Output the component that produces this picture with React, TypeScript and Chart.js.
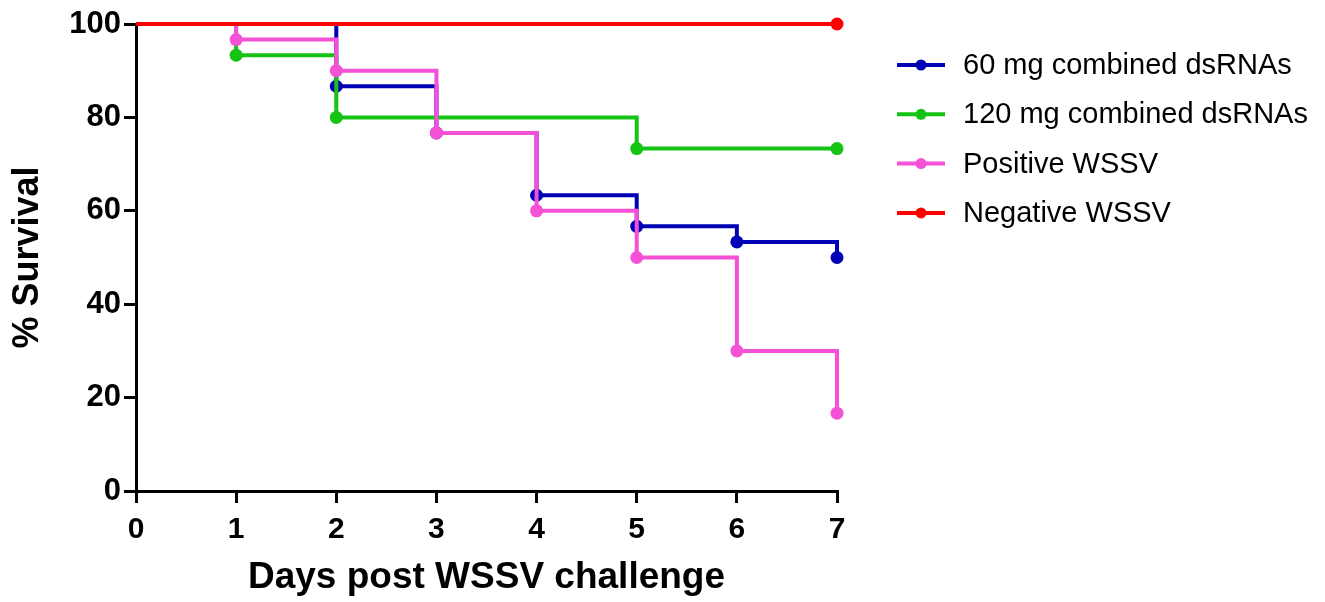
import { useEffect, useRef } from 'react';
import { Chart, registerables } from 'chart.js';

Chart.register(...registerables);

const seriesNames = ['60 mg combined dsRNAs', '120 mg combined dsRNAs', 'Positive WSSV', 'Negative WSSV'];
const seriesColors = ['#0000b4', '#14c314', '#f551d6', '#ff0000'];

const days60 = [0, 2, 3, 4, 5, 6, 7];
const survival60 = [100, 86.67, 76.67, 63.33, 56.67, 53.33, 50];

const days120 = [0, 1, 2, 5, 7];
const survival120 = [100, 93.33, 80, 73.33, 73.33];

const daysPositive = [0, 1, 2, 3, 4, 5, 6, 7];
const survivalPositive = [100, 96.67, 90, 76.67, 60, 50, 30, 16.67];

const daysNegative = [0, 7];
const survivalNegative = [100, 100];

const xTickValues = [0, 1, 2, 3, 4, 5, 6, 7];
const yTickValues = [0, 20, 40, 60, 80, 100];

const FONT = "'Liberation Sans', Arial, sans-serif";

function toPoints(xs: number[], ys: number[]) {
  return xs.map((x, i) => ({ x, y: ys[i] }));
}

const sideLegend = {
  id: 'sideLegend',
  afterDraw(chart: any) {
    const ctx = chart.ctx;
    ctx.save();
    seriesNames.forEach((name, i) => {
      const y = 65 + i * 49.3;
      ctx.strokeStyle = seriesColors[i];
      ctx.lineWidth = 4;
      ctx.beginPath();
      ctx.moveTo(897, y);
      ctx.lineTo(945, y);
      ctx.stroke();
      ctx.fillStyle = seriesColors[i];
      ctx.beginPath();
      ctx.arc(921, y, 5.5, 0, Math.PI * 2);
      ctx.fill();
      ctx.fillStyle = '#000';
      ctx.font = `29px ${FONT}`;
      ctx.textAlign = 'left';
      ctx.textBaseline = 'middle';
      ctx.fillText(name, 963, y + 1);
    });
    ctx.restore();
  },
};

export default function App() {
  const canvasRef = useRef<HTMLCanvasElement | null>(null);

  useEffect(() => {
    if (!canvasRef.current) return;
    const makeDataset = (label: string, xs: number[], ys: number[], color: string, order: number, radii: number[]) => ({
      label,
      data: toPoints(xs, ys),
      borderColor: color,
      backgroundColor: color,
      borderWidth: 4,
      stepped: 'before' as const,
      pointRadius: radii,
      pointHoverRadius: radii,
      pointBorderWidth: 0,
      pointBackgroundColor: color,
      fill: false,
      clip: false as const,
      order,
    });

    const chart = new Chart(canvasRef.current, {
      type: 'line',
      data: {
        datasets: [
          makeDataset(seriesNames[0], days60, survival60, seriesColors[0], 3, days60.map((d) => (d === 0 ? 0 : 6.5))),
          makeDataset(seriesNames[1], days120, survival120, seriesColors[1], 2, days120.map((d) => (d === 0 ? 0 : 6.5))),
          makeDataset(seriesNames[2], daysPositive, survivalPositive, seriesColors[2], 1, daysPositive.map((d) => (d === 0 ? 0 : 6.5))),
          makeDataset(seriesNames[3], daysNegative, survivalNegative, seriesColors[3], 0, daysNegative.map((d) => (d === 0 ? 0 : 6.5))),
        ],
      },
      options: {
        responsive: false,
        animation: false,
        events: [],
        layout: { padding: { top: 24, right: 488, left: 0, bottom: 0 } },
        plugins: {
          legend: { display: false },
          tooltip: { enabled: false },
        },
        scales: {
          x: {
            type: 'linear',
            min: 0,
            max: 7,
            afterFit: (scale: any) => {
              scale.height = 111;
            },
            afterBuildTicks: (scale: any) => {
              scale.ticks = xTickValues.map((v) => ({ value: v }));
            },
            ticks: {
              color: '#000',
              font: { family: FONT, size: 30, weight: 'bold' },
              padding: 9,
              maxRotation: 0,
              autoSkip: false,
              callback: (v: any) => String(v),
            },
            grid: {
              display: true,
              drawOnChartArea: false,
              drawTicks: true,
              tickLength: 12,
              color: '#000',
              lineWidth: 3,
            },
            border: { display: true, color: '#000', width: 3 },
            title: {
              display: true,
              text: 'Days post WSSV challenge',
              color: '#000',
              font: { family: FONT, size: 37, weight: 'bold' },
              padding: { top: 0, bottom: 2 },
            },
          },
          y: {
            type: 'linear',
            min: 0,
            max: 100,
            afterFit: (scale: any) => {
              scale.width = 136;
            },
            afterBuildTicks: (scale: any) => {
              scale.ticks = yTickValues.map((v) => ({ value: v }));
            },
            ticks: {
              color: '#000',
              font: { family: FONT, size: 31, weight: 'bold' },
              padding: 3,
              autoSkip: false,
              callback: (v: any) => String(v),
            },
            grid: {
              display: true,
              drawOnChartArea: false,
              drawTicks: true,
              tickLength: 12,
              color: '#000',
              lineWidth: 3,
            },
            border: { display: true, color: '#000', width: 3 },
            title: {
              display: true,
              text: '% Survival',
              color: '#000',
              font: { family: FONT, size: 36, weight: 'bold' },
              padding: { top: 6, bottom: 0 },
            },
          },
        },
      },
      plugins: [sideLegend],
    } as any);

    return () => chart.destroy();
  }, []);

  return (
    <div style={{ position: 'fixed', left: 0, top: 0, width: 1325, height: 602, background: '#fff' }}>
      <canvas ref={canvasRef} width={1325} height={602} style={{ display: 'block' }} />
    </div>
  );
}
